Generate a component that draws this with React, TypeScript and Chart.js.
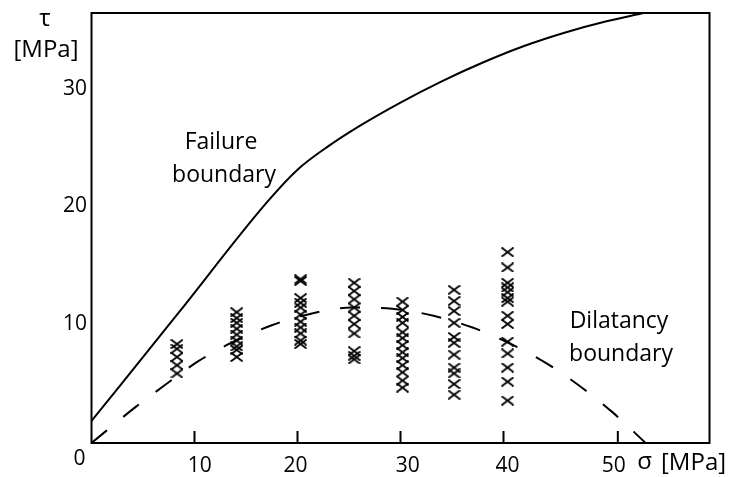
import React, { useEffect, useRef } from "react";
import { Chart, registerables } from "chart.js";

Chart.register(...registerables);

// Failure boundary (solid)
const failureSigma = [0, 8.5, 17.0, 20, 23, 26, 30, 34, 38, 42, 46, 50, 53.6];
const failureTau = [1.87, 11.1, 20.4, 23.2, 25.2, 26.9, 28.9, 30.7, 32.3, 33.7, 34.85, 35.8, 36.5];

// Dilatancy boundary (dashed)
const dilatancySigma = [0, 4.2, 7.1, 10.3, 13.1, 17.5, 21.4, 25.3, 29.2, 33.2, 37.0, 40.5, 44.1, 47.3, 50.6, 53.8];
const dilatancyTau = [0, 3.0, 4.9, 6.9, 8.3, 10.0, 11.0, 11.5, 11.4, 10.8, 9.8, 8.5, 6.8, 4.9, 2.6, 0];

// Test results (crosses), one column per confining stress
const columnSigma = [8.3, 14.1, 20.3, 25.5, 30.2, 35.2, 40.4];
const tauCol8 = [8.4, 8.0, 7.3, 6.6, 5.9];
const tauCol14 = [11.1, 10.6, 10.2, 9.7, 9.2, 8.7, 8.2, 7.9, 7.3];
const tauCol20 = [13.9, 13.75, 12.3, 11.9, 11.5, 10.9, 10.3, 9.8, 9.3, 8.7, 8.4];
const tauCol25 = [13.6, 12.9, 12.2, 11.5, 10.8, 10.1, 9.3, 7.8, 7.4, 7.1];
const tauCol30 = [12.0, 11.3, 10.7, 10.2, 9.4, 8.9, 8.3, 7.7, 7.2, 6.6, 6.0, 5.3, 4.7];
const tauCol35 = [13.0, 12.05, 11.2, 10.2, 9.0, 8.5, 7.5, 6.4, 5.9, 5.0, 4.1];
const tauCol40 = [16.2, 14.9, 13.6, 13.2, 12.8, 12.3, 12.0, 10.8, 10.1, 8.6, 7.6, 6.4, 5.2, 3.6];

// Axes
const xTickValues = [10, 20, 30, 40, 51.1];
const xLabelValues = [10.5, 19.8, 30.7, 40.4, 50.7];
const xTickLabels = ["10", "20", "30", "40", "50"];
const yTickValues = [10, 20, 30];
const yTickLabels = ["10", "20", "30"];

const FONT = '"Open Sans", "DejaVu Sans", sans-serif';

export default function App() {
  const ref = useRef<HTMLCanvasElement | null>(null);

  useEffect(() => {
    const canvas = ref.current;
    if (!canvas) return;

    const marker = document.createElement("canvas");
    marker.width = 13;
    marker.height = 10;
    const mc = marker.getContext("2d")!;
    mc.strokeStyle = "#000";
    mc.lineWidth = 1.9;
    mc.beginPath();
    mc.moveTo(0.5, 0.5);
    mc.lineTo(12.5, 9.5);
    mc.moveTo(0.5, 9.5);
    mc.lineTo(12.5, 0.5);
    mc.stroke();

    const tauColumns = [tauCol8, tauCol14, tauCol20, tauCol25, tauCol30, tauCol35, tauCol40];
    const crossPoints: { x: number; y: number }[] = [];
    tauColumns.forEach((col, i) => col.forEach((t) => crossPoints.push({ x: columnSigma[i], y: t })));

    const decor = {
      id: "decor",
      afterDraw(chart: any) {
        const { ctx, chartArea } = chart;
        const xs = chart.scales.x;
        const ys = chart.scales.y;
        const { left, top, right, bottom } = chartArea;
        ctx.save();
        ctx.strokeStyle = "#000";
        ctx.lineWidth = 2;
        ctx.strokeRect(left, top, right - left, bottom - top);
        // x tick marks
        ctx.beginPath();
        xTickValues.forEach((v) => {
          const px = xs.getPixelForValue(v);
          ctx.moveTo(px, bottom);
          ctx.lineTo(px, bottom - 12);
        });
        ctx.stroke();
        ctx.fillStyle = "#000";
        // x labels
        ctx.font = `21px ${FONT}`;
        ctx.textAlign = "center";
        ctx.textBaseline = "middle";
        xTickLabels.forEach((l, i) => {
          ctx.fillText(l, xs.getPixelForValue(xLabelValues[i]), bottom + 23);
        });
        ctx.fillText("0", left - 12, bottom + 16);
        // y labels
        ctx.textAlign = "right";
        yTickLabels.forEach((l, i) => {
          ctx.fillText(l, left - 4.5, ys.getPixelForValue(yTickValues[i]) - 1);
        });
        // axis titles
        ctx.font = `24px ${FONT}`;
        ctx.textAlign = "center";
        ctx.fillText("τ", 45, 19);
        ctx.fillText("[MPa]", 46, 50);
        ctx.fillText("σ", 644.5, 462);
        ctx.textAlign = "left";
        ctx.fillText("[MPa]", 661, 463);
        // annotations
        ctx.font = `23px ${FONT}`;
        ctx.textAlign = "center";
        ctx.textBaseline = "alphabetic";
        ctx.fillText("Failure", 221, 149);
        ctx.fillText("boundary", 224, 182);
        ctx.fillText("Dilatancy", 619, 328);
        ctx.fillText("boundary", 621, 361);
        ctx.restore();
      },
    };

    const chart = new Chart(canvas, {
      type: "scatter",
      data: {
        datasets: [
          {
            type: "line",
            data: failureSigma.map((x, i) => ({ x, y: failureTau[i] })),
            borderColor: "#000",
            borderWidth: 2,
            pointRadius: 0,
            cubicInterpolationMode: "monotone",
            fill: false,
          } as any,
          {
            type: "line",
            data: dilatancySigma.map((x, i) => ({ x, y: dilatancyTau[i] })),
            borderColor: "#000",
            borderWidth: 2,
            borderDash: [20, 21],
            pointRadius: 0,
            cubicInterpolationMode: "monotone",
            fill: false,
          } as any,
          {
            data: crossPoints,
            pointStyle: marker,
            pointRadius: 6,
            borderColor: "#000",
          } as any,
        ],
      },
      options: {
        responsive: false,
        animation: false,
        devicePixelRatio: 1,
        layout: { padding: { left: 91.5, top: 13, right: 23.5, bottom: 34 } },
        plugins: { legend: { display: false }, tooltip: { enabled: false } },
        scales: {
          x: { type: "linear", min: 0, max: 60, display: false },
          y: { type: "linear", min: 0, max: 36.5, display: false },
        },
      },
      plugins: [decor],
    });

    return () => chart.destroy();
  }, []);

  return (
    <div style={{ position: "fixed", left: 0, top: 0, width: 733, height: 477, background: "#fff" }}>
      <canvas ref={ref} width={733} height={477} style={{ display: "block", width: 733, height: 477 }} />
    </div>
  );
}
